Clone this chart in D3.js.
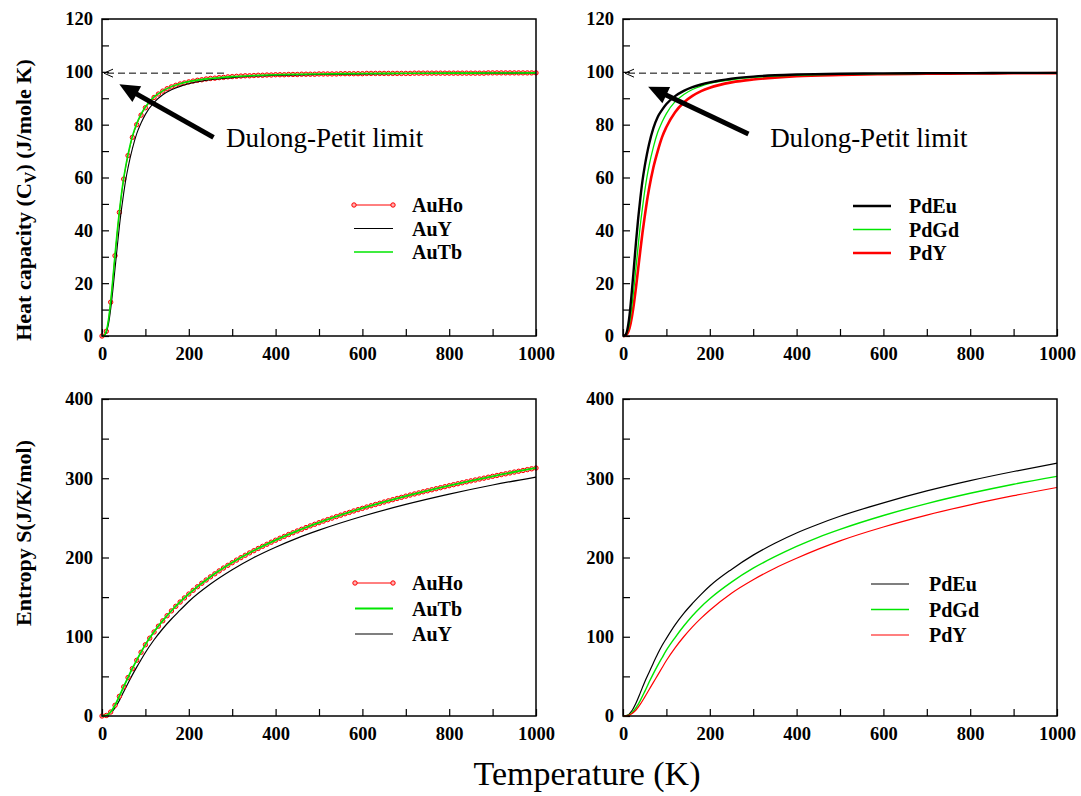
<!DOCTYPE html>
<html>
<head>
<meta charset="utf-8">
<script src="https://cdn.jsdelivr.net/npm/d3@7"></script>
<style>
  body { margin: 0; background: #fff; }
  svg { display: block; }
</style>
</head>
<body>
<svg id="chart" width="1081" height="796"></svg>
<script>
// ---------- temperatures (K) ----------
const tempFine = [0,10,20,30,40,50,60,70,80,90,100,110,120,130,140,150,160,170,180,190,
  200,210,220,230,240,250,260,270,280,290,300,310,320,330,340,350,360,370,380,390,
  400,410,420,430,440,450,460,470,480,490,500,510,520,530,540,550,560,570,580,590,
  600,610,620,630,640,650,660,670,680,690,700,710,720,730,740,750,760,770,780,790,
  800,810,820,830,840,850,860,870,880,890,900,910,920,930,940,950,960,970,980,990,1000];
const tempCoarse = [0,5,10,15,20,25,30,35,40,45,50,55,60,70,80,90,100,120,140,160,180,200,
  250,300,350,400,500,600,700,800,900,1000];
const tempS = [0,10,20,30,40,50,60,70,80,90,100,120,140,160,180,200,250,300,350,400,450,500,
  600,700,800,900,1000];

// ---------- heat capacity Cv (J/mole K) ----------
const cvAuHo = [0,1.8,12.8,30.4,46.8,59.4,68.3,75.2,80.0,83.6,
  86.4,88.6,90.3,91.6,92.7,93.6,94.3,94.9,95.4,95.8,
  96.2,96.5,96.8,97.0,97.3,97.5,97.6,97.8,97.9,98.1,
  98.2,98.3,98.4,98.5,98.5,98.6,98.7,98.7,98.8,98.8,
  98.9,98.9,98.9,99.0,99.0,99.0,99.1,99.1,99.1,99.1,
  99.2,99.2,99.2,99.2,99.2,99.3,99.3,99.3,99.3,99.3,
  99.3,99.4,99.4,99.4,99.4,99.4,99.4,99.4,99.4,99.4,
  99.4,99.4,99.5,99.5,99.5,99.5,99.5,99.5,99.5,99.5,
  99.5,99.5,99.5,99.5,99.5,99.5,99.5,99.5,99.5,99.6,
  99.6,99.6,99.6,99.6,99.6,99.6,99.6,99.6,99.6,99.6,
  99.6];
const cvAuY = [0,0.15,1.4,4.6,10.2,17.3,25.5,33.5,41.4,48.1,54.1,59.4,63.7,70.9,76.6,80.6,
  83.9,88.4,91.3,93.2,94.5,95.5,97.0,97.8,98.4,98.7,99.0,99.2,99.35,99.45,99.5,99.55];
const cvAuTb = [0,0.2,1.9,6.2,13.0,21.6,30.8,39.4,47.2,54.0,59.8,64.6,68.7,75.6,80.4,84.0,
  86.7,90.5,92.8,94.4,95.5,96.3,97.5,98.2,98.6,98.9,99.2,99.35,99.45,99.5,99.55,99.6];
const cvPdEu = [0,0.3,2.4,7.8,16.2,25.8,35.6,44.5,52.2,58.9,64.2,68.7,72.6,78.7,82.9,85.6,
  87.8,90.8,92.8,94.2,95.2,96.0,97.4,98.2,98.7,99.0,99.3,99.4,99.5,99.5,99.6,99.6];
const cvPdGd = [0,0.15,1.5,4.8,10.5,17.8,26.0,34.2,42.1,48.7,54.8,60.0,64.4,71.5,77.1,81.0,
  84.2,88.7,91.4,93.3,94.6,95.6,97.0,97.9,98.4,98.7,99.1,99.3,99.4,99.45,99.5,99.55];
const cvPdY = [0,0.1,0.9,3.0,6.8,12.1,18.5,25.5,32.5,39.2,45.2,50.8,55.7,63.8,70.0,75.3,
  79.1,84.7,88.4,90.9,92.7,94.0,96.0,97.1,97.8,98.3,98.8,99.1,99.25,99.35,99.45,99.5];

// ---------- entropy S (J/K/mol) ----------
const sAuHo = [0,0.7,5.0,13.5,24.8,36.8,48.5,59.8,70.3,80.4,
  89.9,98.2,106.0,113.3,120.1,126.5,132.6,138.4,143.8,149.0,
  153.9,158.6,163.1,167.5,171.6,175.6,179.4,183.1,186.7,190.1,
  193.4,196.7,199.8,202.8,205.8,208.6,211.4,214.1,216.7,219.3,
  221.8,224.3,226.6,229.0,231.2,233.5,235.6,237.8,239.9,241.9,
  243.9,245.9,247.8,249.7,251.6,253.4,255.2,256.9,258.7,260.4,
  262.0,263.7,265.3,266.9,268.4,270.0,271.5,273.0,274.5,275.9,
  277.4,278.8,280.2,281.5,282.9,284.2,285.5,286.8,288.1,289.4,
  290.6,291.9,293.1,294.3,295.5,296.7,297.8,299.0,300.1,301.3,
  302.4,303.5,304.6,305.6,306.7,307.8,308.8,309.8,310.9,311.9,
  312.9];
const sAuTb = [0,0.7,5.0,13.6,25.0,37.0,48.7,60.0,70.5,80.6,90.1,106.2,120.3,132.8,144.0,154.1,
  175.8,193.6,208.8,222.0,233.7,244.1,262.2,277.5,290.8,302.5,313.0];
const sAuY = [0,0.6,3.9,10.3,19.7,30.6,41.3,51.9,61.7,71.0,80.1,96.2,110.1,122.4,133.5,144.5,
  166.5,184.5,200.0,213.0,224.5,234.5,252.0,267.0,280.0,291.5,301.5];
const sPdEu = [0,0.9,6.3,16.5,29.5,43.0,55.0,67.0,78.5,89.0,98.0,115.0,129.5,142.0,153.5,164.0,
  185.0,203.0,218.0,231.0,242.0,252.0,269.0,284.0,297.0,308.5,319.0];
const sPdGd = [0,0.6,3.9,10.4,19.8,30.8,42.5,53.5,63.8,73.5,83.0,99.0,113.5,126.5,138.0,148.0,
  169.0,186.5,201.0,214.0,225.5,235.5,253.0,268.0,281.0,292.5,302.4];
const sPdY = [0,0.4,2.9,7.6,14.9,23.8,33.1,42.4,51.6,60.9,70.0,86.0,100.0,112.5,123.5,133.5,
  155.0,172.0,186.5,199.0,210.5,221.0,238.5,253.5,266.5,278.0,288.4];

// ---------- axis ticks ----------
const tempTicks = [0,100,200,300,400,500,600,700,800,900,1000];
const tempLabels = [0,200,400,600,800,1000];
const cvTicks = [0,10,20,30,40,50,60,70,80,90,100,110,120];
const cvLabels = [0,20,40,60,80,100,120];
const sTicks = [0,50,100,150,200,250,300,350,400];
const sLabels = [0,100,200,300,400];

// Dulong-Petit annotation: dashed limit level, arrow (tail -> tip) and label anchor
const dulongPetit = 99.5;
const dpDashEnd = 283;
const dpArrowAu = { tail: [257, 75.2], tip: [40, 95.3], label: [286, 71.5] };
const dpArrowPd = { tail: [289, 76.5], tip: [58, 94.4], label: [339, 71.5] };

const RED = "#ff0000", GREEN = "#00e600", BLACK = "#000000";
const FONT = '"Liberation Serif","Times New Roman",Times,serif';
const PW = 434, PH = 317;

const svg = d3.select("#chart").style("font-family", FONT);

const zip = (t, v) => t.map((d, i) => [d, v[i]]);

const panels = [
  { left: 102, top: 19, yMax: 120, yTicks: cvTicks, yLabels: cvLabels, arrow: dpArrowAu,
    legend: { x0: 252, x1: 291, tx: 310, y0: 186, dy: 23.5 },
    series: [
      { name: "AuHo", data: zip(tempFine, cvAuHo), color: RED, width: 1, markers: true },
      { name: "AuY", data: zip(tempCoarse, cvAuY), color: BLACK, width: 1.1 },
      { name: "AuTb", data: zip(tempCoarse, cvAuTb), color: GREEN, width: 1.6 }
    ],
    legendOrder: ["AuHo", "AuY", "AuTb"] },
  { left: 623, top: 19, yMax: 120, yTicks: cvTicks, yLabels: cvLabels, arrow: dpArrowPd,
    legend: { x0: 230, x1: 268, tx: 286, y0: 187, dy: 23.5 },
    series: [
      { name: "PdY", data: zip(tempCoarse, cvPdY), color: RED, width: 2.6 },
      { name: "PdGd", data: zip(tempCoarse, cvPdGd), color: GREEN, width: 1.3 },
      { name: "PdEu", data: zip(tempCoarse, cvPdEu), color: BLACK, width: 2.4 }
    ],
    legendOrder: ["PdEu", "PdGd", "PdY"] },
  { left: 102, top: 399, yMax: 400, yTicks: sTicks, yLabels: sLabels,
    legend: { x0: 253, x1: 291, tx: 310, y0: 184, dy: 25.5 },
    series: [
      { name: "AuY", data: zip(tempS, sAuY), color: BLACK, width: 1.2 },
      { name: "AuHo", data: zip(tempFine, sAuHo), color: RED, width: 1, markers: true },
      { name: "AuTb", data: zip(tempS, sAuTb), color: GREEN, width: 1.8 }
    ],
    legendOrder: ["AuHo", "AuTb", "AuY"] },
  { left: 623, top: 399, yMax: 400, yTicks: sTicks, yLabels: sLabels,
    legend: { x0: 248, x1: 286, tx: 306, y0: 185, dy: 25.5 },
    series: [
      { name: "PdEu", data: zip(tempS, sPdEu), color: BLACK, width: 1.2 },
      { name: "PdGd", data: zip(tempS, sPdGd), color: GREEN, width: 1.4 },
      { name: "PdY", data: zip(tempS, sPdY), color: RED, width: 1.2 }
    ],
    legendOrder: ["PdEu", "PdGd", "PdY"] }
];

function drawMarkers(g, pts, color) {
  g.selectAll(null).data(pts).enter().append("circle")
    .attr("cx", d => d[0]).attr("cy", d => d[1]).attr("r", 2.2)
    .attr("fill", "#ffb0b0").attr("stroke", color).attr("stroke-width", 1);
}

panels.forEach(p => {
  const x = d3.scaleLinear().domain([0, 1000]).range([p.left, p.left + PW]);
  const y = d3.scaleLinear().domain([0, p.yMax]).range([p.top + PH, p.top]);
  const g = svg.append("g");

  // axes with inward ticks
  const xAxis = d3.axisBottom(x).tickValues(tempTicks).tickSize(-7).tickPadding(11)
    .tickFormat(d => tempLabels.includes(d) ? d : "");
  const yAxis = d3.axisLeft(y).tickValues(p.yTicks).tickSize(-7).tickPadding(9)
    .tickFormat(d => p.yLabels.includes(d) ? d : "");
  [g.append("g").attr("transform", `translate(0,${y(0)})`).call(xAxis),
   g.append("g").attr("transform", `translate(${x(0)},0)`).call(yAxis)].forEach(a => {
    a.select(".domain").remove();
    a.selectAll(".tick line").attr("stroke", "#000").attr("stroke-width", 1.2);
    a.selectAll(".tick text").attr("fill", "#000").style("font-family", FONT)
      .style("font-size", "18.5px").style("font-weight", "bold");
  });

  // curves
  const line = d3.line().x(d => x(d[0])).y(d => y(d[1])).curve(d3.curveMonotoneX);
  p.series.forEach(s => {
    g.append("path").datum(s.data).attr("d", line)
      .attr("fill", "none").attr("stroke", s.color).attr("stroke-width", s.width)
      .attr("stroke-linejoin", "round");
    if (s.markers) drawMarkers(g, s.data.map(d => [x(d[0]), y(d[1])]), s.color);
  });

  // frame
  g.append("rect").attr("x", x(0)).attr("y", y(p.yMax)).attr("width", PW).attr("height", PH)
    .attr("fill", "none").attr("stroke", "#000").attr("stroke-width", 1.5);

  // legend
  const L = p.legend;
  p.legendOrder.forEach((name, i) => {
    const s = p.series.find(d => d.name === name);
    const ly = p.top + L.y0 + i * L.dy;
    g.append("line").attr("x1", p.left + L.x0).attr("x2", p.left + L.x1)
      .attr("y1", ly).attr("y2", ly).attr("stroke", s.color).attr("stroke-width", s.width);
    if (s.markers) drawMarkers(g, [[p.left + L.x0, ly], [p.left + L.x1, ly]], s.color);
    g.append("text").attr("x", p.left + L.tx).attr("y", ly + 7)
      .style("font-size", "20px").style("font-weight", "bold").text(name);
  });

  // Dulong-Petit annotation
  if (p.arrow) {
    const a = p.arrow;
    const yd = y(dulongPetit), xs = x(0) + 2;
    g.append("line").attr("x1", xs + 3).attr("x2", x(dpDashEnd)).attr("y1", yd).attr("y2", yd)
      .attr("stroke", "#000").attr("stroke-width", 1).attr("stroke-dasharray", "7,4");
    g.append("polyline").attr("points", `${xs + 9},${yd - 4} ${xs},${yd} ${xs + 9},${yd + 4}`)
      .attr("fill", "none").attr("stroke", "#000").attr("stroke-width", 1);

    const tx = x(a.tail[0]), ty = y(a.tail[1]), hx = x(a.tip[0]), hy = y(a.tip[1]);
    const len = Math.hypot(hx - tx, hy - ty), ux = (hx - tx) / len, uy = (hy - ty) / len;
    const headL = 20, headW = 9;
    const bx = hx - ux * headL, by = hy - uy * headL;
    g.append("line").attr("x1", tx).attr("y1", ty).attr("x2", bx + ux * 2).attr("y2", by + uy * 2)
      .attr("stroke", "#000").attr("stroke-width", 5);
    g.append("polygon").attr("points",
      `${hx},${hy} ${bx - uy * headW},${by + ux * headW} ${bx + uy * headW},${by - ux * headW}`)
      .attr("fill", "#000");
    g.append("text").attr("x", x(a.label[0])).attr("y", y(a.label[1]))
      .style("font-size", "27px").text("Dulong-Petit limit");
  }
});

// axis titles
const t1 = svg.append("text").attr("transform", "translate(31,200) rotate(-90)")
  .attr("text-anchor", "middle").style("font-size", "22px").style("font-weight", "bold");
t1.append("tspan").text("Heat capacity (C");
t1.append("tspan").attr("dy", 5).style("font-size", "16px").text("V");
t1.append("tspan").attr("dy", -5).text(") (J/mole K)");

svg.append("text").attr("transform", "translate(31,533) rotate(-90)")
  .attr("text-anchor", "middle").style("font-size", "22px").style("font-weight", "bold")
  .text("Entropy S(J/K/mol)");

svg.append("text").attr("x", 587).attr("y", 785).attr("text-anchor", "middle")
  .style("font-size", "34px").text("Temperature (K)");
</script>
</body>
</html>
